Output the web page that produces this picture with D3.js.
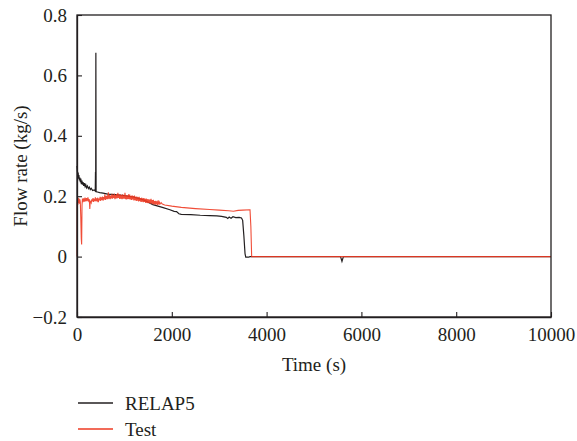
<!DOCTYPE html>
<html><head><meta charset="utf-8">
<script src="https://cdn.jsdelivr.net/npm/d3@7/dist/d3.min.js"></script>
<style>body{margin:0;background:#fff}svg{display:block}text{font-family:"Liberation Serif","DejaVu Serif","Times New Roman",Tinos,"Noto Serif",Times,serif;fill:#231f20}</style>
</head><body><svg id="c" width="577" height="441"></svg>
<script>
const xTicks = [0, 2000, 4000, 6000, 8000, 10000];
const yTicks = [-0.2, 0, 0.2, 0.4, 0.6, 0.8];
const seriesNames = ["RELAP5", "Test"];
const xLabel = "Time (s)";
const yLabel = "Flow rate (kg/s)";

const relap5 = [[0,0.30],[8,0.285],[16,0.27],[24,0.278],[32,0.258],[40,0.27],[50,0.252],[60,0.262],[70,0.246],[80,0.258],[92,0.24],[104,0.252],[116,0.238],[128,0.247],[140,0.234],[155,0.243],[170,0.232],[185,0.238],[200,0.228],[220,0.234],[240,0.225],[260,0.23],[280,0.222],[300,0.226],[330,0.219],[360,0.221],[385,0.217],[390,0.28],[394,0.218],[398,0.675],[403,0.215],[430,0.214],[480,0.212],[550,0.21],[650,0.207],[800,0.205],[1000,0.202],[1200,0.197],[1400,0.188],[1600,0.172],[1800,0.163],[1960,0.155],[2050,0.15],[2100,0.149],[2150,0.142],[2200,0.14],[2400,0.139],[2600,0.137],[2800,0.136],[2950,0.135],[3050,0.133],[3150,0.13],[3180,0.126],[3210,0.131],[3250,0.127],[3290,0.132],[3350,0.129],[3420,0.13],[3470,0.128],[3495,0.12],[3520,0.07],[3545,0.01],[3560,-0.002],[3620,-0.002],[3650,0],[5560,0],[5590,-0.016],[5620,0],[10000,0]];

const test = [[0,0],[3,0.17],[10,0.19],[18,0.172],[26,0.195],[34,0.178],[42,0.192],[50,0.175],[60,0.19],[70,0.18],[80,0.13],[90,0.06],[98,0.04],[106,0.17],[115,0.192],[125,0.18],[140,0.193],[155,0.182],[170,0.195],[185,0.183],[200,0.194],[215,0.184],[230,0.196],[245,0.185],[260,0.19],[270,0.158],[280,0.185],[300,0.178],[312,0.19],[325,0.183],[338,0.194],[350,0.181],[362,0.191],[375,0.184],[388,0.196],[400,0.183],[412,0.193],[425,0.186],[438,0.195],[450,0.18],[462,0.192],[475,0.186],[488,0.198],[500,0.184],[512,0.196],[525,0.188],[538,0.199],[550,0.185],[562,0.197],[575,0.189],[588,0.206],[600,0.188],[612,0.2],[625,0.19],[638,0.203],[650,0.19],[662,0.213],[675,0.192],[688,0.204],[700,0.19],[712,0.202],[725,0.193],[738,0.208],[750,0.192],[762,0.204],[775,0.194],[788,0.209],[800,0.19],[812,0.204],[825,0.193],[838,0.207],[850,0.193],[862,0.211],[875,0.194],[888,0.205],[900,0.191],[912,0.206],[925,0.192],[938,0.204],[950,0.19],[962,0.206],[975,0.192],[988,0.203],[1000,0.192],[1012,0.211],[1025,0.19],[1038,0.204],[1050,0.189],[1062,0.202],[1075,0.191],[1088,0.206],[1100,0.19],[1112,0.205],[1125,0.189],[1138,0.2],[1150,0.188],[1162,0.203],[1175,0.189],[1188,0.2],[1200,0.186],[1212,0.202],[1225,0.187],[1238,0.198],[1250,0.184],[1262,0.199],[1275,0.185],[1288,0.196],[1300,0.183],[1312,0.198],[1325,0.184],[1338,0.194],[1350,0.181],[1362,0.195],[1375,0.182],[1388,0.193],[1400,0.18],[1412,0.194],[1425,0.181],[1438,0.191],[1450,0.178],[1462,0.192],[1475,0.179],[1488,0.19],[1500,0.177],[1512,0.19],[1525,0.178],[1538,0.189],[1550,0.175],[1562,0.191],[1575,0.176],[1588,0.187],[1600,0.173],[1612,0.188],[1625,0.174],[1638,0.184],[1650,0.172],[1662,0.185],[1675,0.173],[1688,0.183],[1700,0.17],[1712,0.186],[1725,0.173],[1738,0.18],[1750,0.174],[1775,0.179],[1800,0.174],[1850,0.171],[2000,0.167],[2200,0.163],[2500,0.159],[2800,0.156],[3000,0.154],[3200,0.152],[3300,0.15],[3400,0.153],[3500,0.154],[3650,0.155],[3668,0.1],[3685,0.0],[3700,0],[10000,0]];

const colors = ["#231f20", "#ee3a22"];

const svg = d3.select("#c");
const m = {l:77, r:551, t:15, b:317};
const x = d3.scaleLinear().domain([0,10000]).range([m.l, m.r]);
const y = d3.scaleLinear().domain([-0.2,0.8]).range([m.b, m.t]);

const fmtY = d => d < 0 ? "\u2212" + Math.abs(d).toFixed(1) : (d === 0 ? "0" : d.toFixed(1));
const serif = '"Liberation Serif","DejaVu Serif","Times New Roman",Tinos,"Noto Serif",Times,serif';

const line = d3.line().x(d => x(d[0])).y(d => y(d[1]));
svg.append("path").datum(relap5).attr("d", line).attr("fill","none").attr("stroke",colors[0]).attr("stroke-width",1.2);
svg.append("path").datum(test).attr("d", line).attr("fill","none").attr("stroke",colors[1]).attr("stroke-width",1.1).attr("stroke-opacity",0.9);

svg.append("rect").attr("x",m.l).attr("y",m.t).attr("width",m.r-m.l).attr("height",m.b-m.t)
  .attr("fill","none").attr("stroke","#231f20").attr("stroke-width",1.3);

const xAxis = svg.append("g").attr("transform",`translate(0,${m.b})`)
  .call(d3.axisBottom(x).tickValues(xTicks).tickSizeInner(-5).tickSizeOuter(0).tickPadding(11).tickFormat(d3.format("d")));
const yAxis = svg.append("g").attr("transform",`translate(${m.l},0)`)
  .call(d3.axisLeft(y).tickValues(yTicks).tickSizeInner(-5).tickSizeOuter(0).tickPadding(10).tickFormat(fmtY));
[xAxis,yAxis].forEach(a => {
  a.attr("font-family", serif);
  a.select(".domain").attr("stroke","#231f20").attr("stroke-width",1.3);
  a.selectAll(".tick line").attr("stroke","#231f20").attr("stroke-width",1.1);
  a.selectAll("text").attr("font-size",19).style("font-family",serif).attr("fill","#231f20");
});

svg.append("text").attr("x",(m.l+m.r)/2).attr("y",371).attr("text-anchor","middle").attr("font-size",19).style("font-family",serif).text(xLabel);
svg.append("text").attr("transform",`translate(27,${(m.t+m.b)/2}) rotate(-90)`).attr("text-anchor","middle").attr("font-size",19).style("font-family",serif).text(yLabel);

const leg = svg.append("g");
seriesNames.forEach((n,i) => {
  const yy = 403 + i*26;
  leg.append("line").attr("x1",78).attr("x2",113).attr("y1",yy).attr("y2",yy).attr("stroke",colors[i]).attr("stroke-width",1.3);
  leg.append("text").attr("x",125).attr("y",yy+6.5).attr("font-size",19).style("font-family",serif).text(n);
});
</script></body></html>
